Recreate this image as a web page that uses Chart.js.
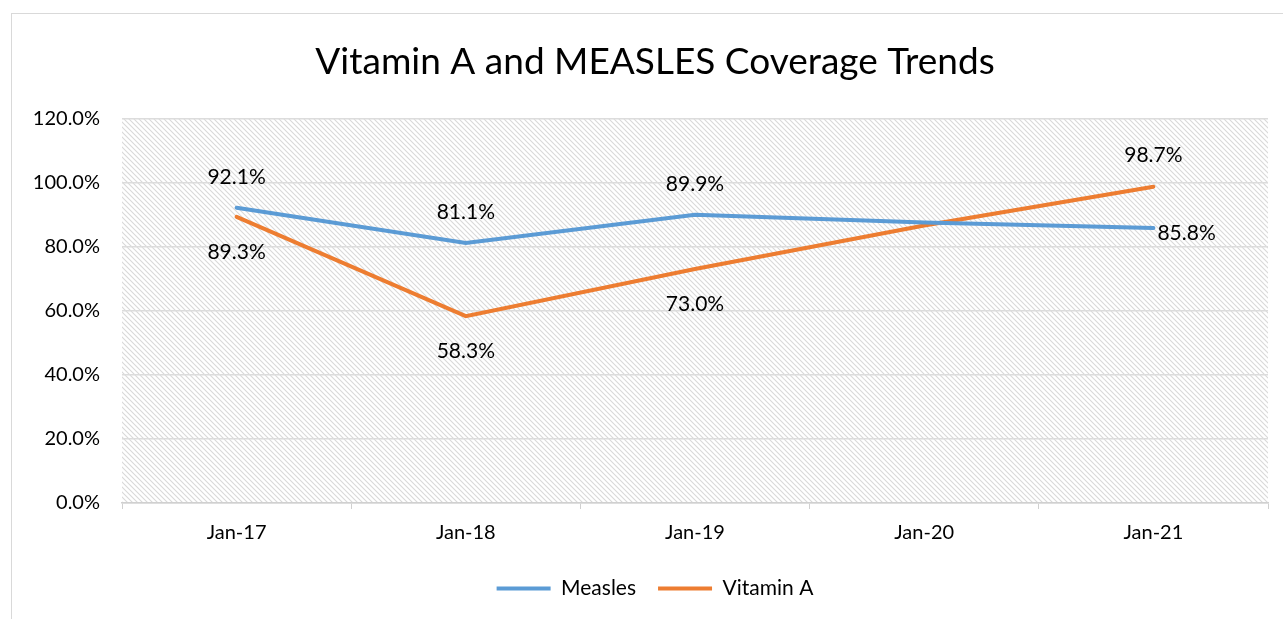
<!DOCTYPE html>
<html>
<head>
<meta charset="utf-8">
<script src="https://cdn.jsdelivr.net/npm/chart.js@4.4.0/dist/chart.umd.min.js"></script>
<style>
  html, body { margin: 0; padding: 0; background: #ffffff; overflow: hidden; }
  #wrap { position: relative; width: 1283px; height: 619px; overflow: hidden; }
  #frame { position: absolute; left: 11px; top: 13px; width: 1300px; height: 700px; border: 1.5px solid #d9d9d9; box-sizing: border-box; pointer-events: none; }
  canvas { position: absolute; left: 0; top: 0; }
</style>
</head>
<body>
<div id="wrap">
  <canvas id="chart" width="1325" height="619"></canvas>
  <div id="frame"></div>
</div>
<script>
// Coverage data by reporting month
const categories = ['Jan-17', 'Jan-18', 'Jan-19', 'Jan-20', 'Jan-21'];
const measles = [92.1, 81.1, 89.9, 87.5, 85.8];
const vitaminA = [89.3, 58.3, 73.0, 86.6, 98.7];
const yTicks = [0, 20, 40, 60, 80, 100, 120];

// where each value label sits relative to its point (null = no label)
const measlesLabelPos = ['above', 'above', 'above', null, 'right'];
const vitaminALabelPos = ['below', 'below', 'below', null, 'above'];

const FONT = 'Lato, "Open Sans", sans-serif';

// light diagonal hatch used as the plot-area fill
function makeHatch() {
  const t = document.createElement('canvas');
  t.width = 5; t.height = 5;
  const c = t.getContext('2d');
  c.fillStyle = '#ffffff';
  c.fillRect(0, 0, 5, 5);
  c.strokeStyle = '#d9d9d9';
  c.lineWidth = 1.1;
  c.beginPath();
  c.moveTo(-1, -1); c.lineTo(6, 6);
  c.moveTo(-1, 4); c.lineTo(1, 6);
  c.moveTo(4, -1); c.lineTo(6, 1);
  c.stroke();
  return t;
}

const plotBackground = {
  id: 'plotBackground',
  beforeDraw(chart) {
    const { ctx, chartArea: a } = chart;
    ctx.save();
    ctx.fillStyle = ctx.createPattern(makeHatch(), 'repeat');
    ctx.fillRect(a.left, a.top, a.right - a.left, a.bottom - a.top);
    ctx.restore();
  }
};

const valueLabels = {
  id: 'valueLabels',
  afterDatasetsDraw(chart) {
    const { ctx } = chart;
    ctx.save();
    ctx.font = '21px ' + FONT;
    ctx.fillStyle = '#000000';
    chart.data.datasets.forEach((ds, di) => {
      const meta = chart.getDatasetMeta(di);
      meta.data.forEach((pt, i) => {
        const pos = ds.labelPos[i];
        if (!pos) return;
        const text = ds.data[i].toFixed(1) + '%';
        let x = pt.x, y = pt.y;
        ctx.textBaseline = 'middle';
        if (pos === 'above') { ctx.textAlign = 'center'; y -= 31; }
        else if (pos === 'below') { ctx.textAlign = 'center'; y += 35; }
        else { ctx.textAlign = 'left'; x += 4; y += 5; }
        ctx.fillText(text, x, y);
      });
    });
    ctx.restore();
  }
};

new Chart(document.getElementById('chart'), {
  type: 'line',
  data: {
    labels: categories,
    datasets: [
      { label: 'Measles', data: measles, labelPos: measlesLabelPos,
        borderColor: '#5b9bd5', backgroundColor: '#5b9bd5', borderWidth: 4,
        pointRadius: 0, tension: 0, borderCapStyle: 'round' },
      { label: 'Vitamin A', data: vitaminA, labelPos: vitaminALabelPos,
        borderColor: '#ed7d31', backgroundColor: '#ed7d31', borderWidth: 4,
        pointRadius: 0, tension: 0, borderCapStyle: 'round' }
    ]
  },
  options: {
    responsive: false,
    animation: false,
    layout: { padding: { left: 0, right: 15, top: 0, bottom: 10 } },
    plugins: {
      title: {
        display: true,
        text: 'Vitamin A and MEASLES Coverage Trends',
        color: '#000000',
        font: { family: FONT, size: 37, weight: 'normal' },
        padding: { top: 40, bottom: 34 }
      },
      legend: {
        position: 'bottom',
        labels: {
          usePointStyle: true, pointStyle: 'line', pointStyleWidth: 54,
          boxHeight: 4, color: '#000000', padding: 22,
          font: { family: FONT, size: 21 }
        }
      },
      tooltip: { enabled: false }
    },
    scales: {
      x: {
        offset: true,
        grid: { display: true, drawOnChartArea: false, drawTicks: true, tickLength: 6, color: '#d0d0d0', offset: true },
        border: { color: '#d0d0d0', width: 1.5 },
        ticks: { color: '#000000', font: { family: FONT, size: 20 }, padding: 12 },
        afterFit(s) { s.height = 53; }
      },
      y: {
        min: 0, max: 120,
        afterBuildTicks(s) { s.ticks = yTicks.map(v => ({ value: v })); },
        grid: { color: '#dcdcdc', lineWidth: 1.5, drawTicks: false },
        border: { display: false },
        ticks: { color: '#000000', font: { family: FONT, size: 20 }, padding: 22,
                 callback: v => v.toFixed(1) + '%' },
        afterFit(s) { s.width = 122; }
      },
      // empty right-hand gutter so the title and legend centre on the frame
      gutter: {
        position: 'right', min: 0, max: 1,
        grid: { display: false }, border: { display: false },
        ticks: { display: false },
        afterFit(s) { s.width = 42; }
      }
    }
  },
  plugins: [plotBackground, valueLabels]
});
</script>
</body>
</html>
